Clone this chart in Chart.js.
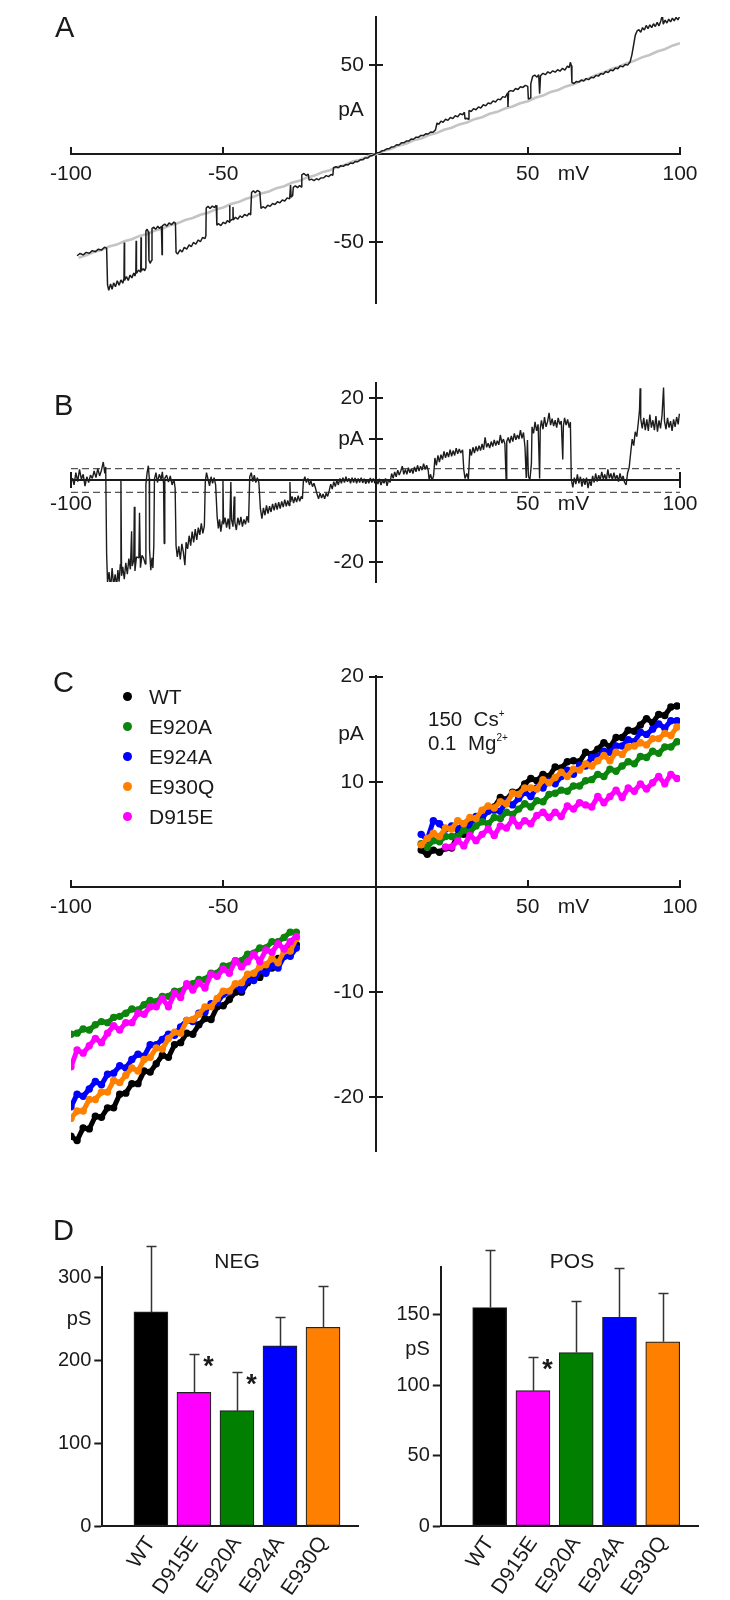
<!DOCTYPE html>
<html>
<head>
<meta charset="utf-8">
<script src="https://cdn.jsdelivr.net/npm/chart.js@4.4.1/dist/chart.umd.min.js"></script>
<style>
  body { margin: 0; background: #fff; font-family: "Liberation Sans", Arial, sans-serif; color: #1a1a1a; }
  #fig { position: relative; width: 730px; height: 1600px; overflow: hidden; }
  canvas { position: absolute; }
  .lbl { position: absolute; white-space: nowrap; }
  .panel { font-size: 29px; line-height: 29px; }
  .ion { font-size: 20.5px; line-height: 20px; }
  .ion sup { font-size: 10px; position: relative; top: -9px; vertical-align: baseline; }
  .title { font-size: 21px; line-height: 21px; transform: translateX(-50%); }
  .leg { position: absolute; font-size: 21px; line-height: 20px; white-space: nowrap; }
  .leg i { position: absolute; left: -26px; top: 5px; width: 9px; height: 9px; border-radius: 50%; }
</style>
</head>
<body>
<div id="fig">
  <canvas id="cA" width="730" height="330" style="left:0;top:0"></canvas>
  <canvas id="cB" width="730" height="280" style="left:0;top:330px"></canvas>
  <canvas id="cC" width="730" height="560" style="left:0;top:610px"></canvas>
  <canvas id="cD1" width="365" height="420" style="left:0;top:1180px"></canvas>
  <canvas id="cD2" width="365" height="420" style="left:365px;top:1180px"></canvas>

  <div class="lbl panel" style="left:55px;top:13px">A</div>
  <div class="lbl panel" style="left:54px;top:391px">B</div>
  <div class="lbl panel" style="left:53px;top:668px">C</div>
  <div class="lbl panel" style="left:53px;top:1216px">D</div>

  <div class="lbl ion" style="left:428px;top:709px">150&nbsp;&nbsp;Cs<sup>+</sup></div>
  <div class="lbl ion" style="left:428px;top:733px">0.1&nbsp;&nbsp;Mg<sup>2+</sup></div>

  <div class="lbl title" style="left:237px;top:1250px">NEG</div>
  <div class="lbl title" style="left:572px;top:1250px">POS</div>
  <div id="legendC"></div>
</div>

<script>
// ---------- A : courant unitaire (noir) et rampe moyenne (gris), [mV, pA]
const traceA = [
  [-98,-57.5],[-97,-56.2],[-96,-57],[-95,-55.6],[-94,-56.1],[-93,-54.6],[-92,-55.2],[-91,-53.8],[-90,-54.3],[-89,-52.7],[-88.3,-53.2],
  [-88,-74],[-87.6,-77],[-87,-73.5],[-86.5,-76.5],[-86,-72.8],[-85.4,-75],[-84.8,-71.6],[-84.2,-74.2],[-83.6,-71.2],[-83,-73],[-82.6,-70.5],[-82.5,-50],[-82.4,-71.5],[-81.8,-69.2],[-81.2,-71.5],[-80.6,-68.4],[-80,-70],[-79.4,-67.2],[-79,-69],[-78.7,-66.5],[-78.6,-49],[-78.5,-67.5],[-77.8,-65.6],[-77.1,-66.8],[-77,-47],[-76.9,-66],[-76.3,-64.8],[-75.8,-66],[-75.5,-64.5],
  [-75.4,-43.5],[-75,-42.5],[-74.6,-44],[-74.4,-60],[-74,-61.8],[-73.6,-60.2],[-73.4,-42],[-72.8,-41.4],[-72.2,-42.6],[-71.5,-40.8],[-71,-42],[-70.3,-41],[-70.1,-57],[-70,-40.6],[-69.2,-39.6],[-68.5,-40.8],[-67.8,-38.9],[-67,-40],[-66.2,-38.4],[-65.7,-39.2],
  [-65.5,-55.5],[-65,-56.6],[-64.2,-54.2],[-63.5,-55.4],[-62.8,-52.8],[-62,-53.8],[-61.2,-51.4],[-60.5,-52.4],[-59.8,-50],[-59,-51],[-58.2,-48.6],[-57.5,-49.6],[-56.8,-47.2],[-56,-47.8],[-55.7,-46.2],
  [-55.6,-30.5],[-55,-29.6],[-54.3,-30.8],[-53.6,-29.4],[-52.9,-30.2],[-52.3,-29],
  [-52.1,-40.2],[-51.5,-39.4],[-50.8,-40.5],[-50,-38.6],[-49.3,-39.4],[-48.6,-37.6],[-48,-38.6],[-47.9,-29],[-47.8,-38],[-47.1,-37],[-46.8,-30],[-46.7,-37.3],[-46,-35.8],[-45.2,-36.8],[-44.5,-35],[-43.8,-35.9],[-43,-34.2],[-42.2,-35],[-41.5,-33.5],[-41,-34.4],
  [-40.7,-21.8],[-40.1,-20.8],[-39.5,-21.9],[-38.8,-20.6],[-38,-21.4],
  [-37.6,-30.8],[-37,-29.8],[-36.2,-30.6],[-35.4,-29],[-34.6,-29.6],[-33.8,-28],[-33,-28.6],[-32.2,-27],[-31.4,-27.6],[-30.6,-26],[-29.8,-26.6],[-29,-24.8],[-28.2,-25.4],[-27.9,-17.5],[-27.7,-24.4],[-27.2,-23.4],
  [-27,-18.8],[-26.3,-18],[-25.6,-19],[-24.9,-17.8],[-24.4,-18.6],
  [-24.2,-11.8],[-23.5,-11],[-22.8,-12.2],[-22.1,-11.4],
  [-21.8,-14.8],[-21,-14.2],[-20.2,-15],[-19.4,-14],[-18.6,-14.6],[-18,-13.6],[-17,-13.4],[-16.2,-12.2],[-15.4,-12.8],[-14.6,-11.6],[-14,-12],
  [-13.8,-7.8],[-13,-7.2],[-12.2,-7.8],[-11.4,-6.6],[-10.6,-7],[-9.8,-6],[-9,-6.2],[-8.2,-5.1],[-7.4,-5.4],[-6.6,-4.2],[-5.8,-4.4],[-5,-3.3],[-4.2,-3.3],[-3.4,-2.2],[-2.6,-2.3],[-1.8,-1.2],[-1,-0.9],[-0.3,-0.2],
  [0.5,0.7],[1.3,0.8],[2.1,1.8],[2.9,2],[3.7,2.9],[4.5,3],[5.3,4],[6.1,4.1],[6.9,5.2],[7.7,5.1],[8.5,6.3],[9.3,6.3],[10.1,7.3],[10.9,7.3],[11.7,8.4],[12.5,8.3],[13.3,9.5],[14.1,9.4],[14.9,10.5],[15.7,10.4],[16.5,11.4],[17.3,11.3],[18.1,12.4],[18.9,12.3],[19.7,13.6],
  [20.2,17.5],[20.8,16.8],[21.5,18.6],[22.2,17.9],[23,19.6],[23.8,19],[24.6,20.6],[25.4,20],[26.2,21.6],[27,21],[27.8,22.8],[28.6,22.2],[29.2,23.6],
  [29.4,19.8],[30,20.2],[30.5,19.6],
  [30.7,24.6],[31.4,24],[32.2,25.6],[33,25],[33.8,26.6],[34.6,26],[35.4,27.8],[36.2,27.2],[37,28.8],[37.8,28.4],[38.6,30],[39.4,29.4],[40.2,31],[41,30.6],[41.8,32.4],[42.6,32],[43.4,34.5],[43.5,26.6],[43.7,35.2],[44.4,35.8],[45.2,35.4],[46,37],[46.8,36.4],[47.6,38],[48.4,37.6],[49.2,38.8],[50,38.2],[50.2,31],[50.8,31.6],[51,39.6],[51.6,43.8],[52.3,44.6],[53,43.4],[53.6,44.8],[53.9,34],[54.2,44.2],[55,45.6],[55.8,44.8],[56.6,46.4],[57.4,45.6],[58.2,47],[59,46.2],[59.8,47.6],[60.6,46.8],[61.4,48.4],[62.2,47.4],[63,49.6],[63.6,48.8],[64,51.8],[64.3,50],
  [64.5,40.4],[65.2,39.8],[66,41],[66.8,40.6],[67.6,41.8],[68.4,41.2],[69.2,42.6],[70,42],[70.8,43.4],[71.6,43],[72.4,44.4],[73.2,44],[74,45.4],[74.8,45],[75.6,46.6],[76.4,46],[77.2,47.4],[78,47],[78.8,48.6],[79.6,48.2],[80.4,49.8],[81.2,49.2],[82,50.6],[82.8,50.2],[83.6,52],
  [84.2,56],[84.8,62],[85.3,67],[85.9,69.5],[86.5,70.2],[87.1,68.8],[87.7,71.4],[88.3,70],[88.9,72.6],[89.5,70.8],[90.1,73],[90.7,71.4],[91.3,73.6],[91.9,72],[92.5,74.4],[93.1,72.4],[93.7,75.2],[94.2,78.5],[94.5,73.4],[95.1,75.6],[95.7,74],[96.3,76.2],[96.9,74.6],[97.5,76.8],[98.1,75.2],[98.7,77.2],[99.3,75.8],[99.8,77.4]
];
const meanA = [
  [-97.5,-58.6],[-95,-57.2],[-92.5,-55.4],[-90,-54.3],[-87.5,-52.3],[-85,-51.2],[-82.5,-49.3],[-80,-48.2],[-77.5,-46.3],[-75,-45.2],[-72.5,-43.3],[-70,-42.2],[-67.5,-40.3],[-65,-39.2],[-62.5,-37.3],[-60,-36.2],[-57.5,-34.3],[-55,-33.2],[-52.5,-31.3],[-50,-30.2],
  [-47.5,-28.3],[-45,-27.2],[-42.5,-25.3],[-40,-24.2],[-37.5,-22.3],[-35,-21.2],[-32.5,-19.3],[-30,-18.2],[-27.5,-16.3],[-25,-15.2],[-22.5,-13.3],[-20,-12.2],[-17.5,-10.3],[-15,-9.2],[-12.5,-7.3],[-10,-6.2],[-7.5,-4.3],[-5,-3.2],[-2.5,-1.3],[0,-0.2],
  [2.5,1.7],[5,2.8],[7.5,4.7],[10,5.8],[12.5,7.7],[15,8.8],[17.5,10.7],[20,11.8],[22.5,13.7],[25,14.8],[27.5,16.7],[30,17.8],[32.5,19.7],[35,20.8],[37.5,22.7],[40,23.8],[42.5,25.7],[45,26.8],[47.5,28.7],[50,29.8],
  [52.5,31.8],[55,33.0],[57.5,35.0],[60,36.2],[62.5,38.2],[65,39.4],[67.5,41.4],[70,42.7],[72.5,44.7],[75,46.0],[77.5,48.0],[80,49.3],[82.5,51.3],[85,52.6],[87.5,54.6],[90,55.9],[92.5,57.9],[95,59.2],[97.5,61.2],[100,62.6]
];

// ---------- B : courant soustrait, [mV, pA]
const traceB = [
  [-99.5,0.5],[-99,-1.2],[-98.4,1.8],[-97.8,-0.4],[-97.2,2.6],[-96.6,0.2],[-96,1.4],[-95.4,-1.5],[-94.8,0.8],[-94.2,-0.6],[-93.6,1.2],[-93,0.4],[-92.4,2.2],[-91.8,0.6],[-91.2,2.8],[-90.6,1.0],[-90,2.4],[-89.4,4.4],[-88.9,1.6],[-88.6,3.2],
  [-88.3,-18],[-88,-25],[-87.5,-22.5],[-87,-26.6],[-86.5,-21.5],[-86,-25.8],[-85.5,-23],[-85,-26],[-84.6,-22],[-84.2,-24.8],[-83.8,-20.6],[-83.6,0],[-83.4,-23.4],[-83,-21.2],[-82.5,-24.2],[-82,-20.2],[-81.5,-23],[-81,-19.2],[-80.5,-21.8],[-80.1,-12.5],[-79.9,-21],[-79.4,-19.6],[-79.2,-6.5],[-79,-22.2],[-78.5,-18.8],[-77.7,-19],[-77.5,-8],[-77.2,-21.4],[-76.7,-18.4],[-76.2,-19],[-75.6,-20.5],
  [-75.4,-1],[-75,1.8],[-74.6,3.5],[-74.3,0.5],[-74.2,-17],[-73.8,-22],[-73.4,-19],[-73.1,-21.5],[-72.8,-16],[-72.6,0.2],[-72.1,1.8],[-71.6,-0.6],[-71,1.4],[-70.4,0.2],[-70,2],[-69.6,-0.8],[-69.4,-15.5],[-69.2,0.4],[-68.6,1.2],[-68,-0.5],[-67.4,1],[-66.8,-1.2],[-66.2,0.2],[-65.8,-2],
  [-65.5,-16],[-65.1,-18.8],[-64.6,-16.2],[-64.1,-19.4],[-63.6,-15.6],[-63.1,-17.6],[-62.6,-20.8],[-62.2,-15.2],[-61.7,-16.8],[-61.2,-13.6],[-60.7,-16],[-60.2,-12.6],[-59.7,-15.2],[-59.2,-12],[-58.7,-14.6],[-58.2,-11.6],[-57.7,-13.4],[-57.2,-10.6],[-56.7,-13],[-56.2,-11.2],
  [-55.9,-0.5],[-55.5,1.8],[-55,0.2],[-54.5,-1.4],[-54,0.8],[-53.5,-0.8],[-53,0.6],[-52.5,-1.2],
  [-52,-9],[-51.6,-11.8],[-51.2,-9.6],[-50.8,-12.6],[-50.3,-10],[-50.1,0],[-49.9,-10.8],[-49.4,-9.2],[-48.9,-11.6],[-48.4,-9.4],[-47.9,-12],[-47.5,-0.5],[-47.3,-9.6],[-46.8,-11.4],[-46.4,-4],[-46.2,-10.2],[-45.7,-12.2],[-45.2,-9.2],[-44.7,-11],[-44.2,-9],[-43.7,-11.4],[-43.2,-9.6],[-42.7,-10.8],[-42.2,-8.8],[-41.7,-10.4],
  [-41.3,0.8],[-40.8,1.8],[-40.3,-0.4],[-39.8,1.2],[-39.3,-0.6],[-38.8,0.6],[-38.3,-0.6],
  [-37.8,-7],[-37.3,-9.4],[-36.8,-6.8],[-36.3,-8.6],[-35.8,-6.2],[-35.3,-8.2],[-34.8,-6.4],[-34.3,-7.8],[-33.8,-5.8],[-33.3,-7.4],[-32.8,-5.6],[-32.3,-7.2],[-31.8,-5.4],[-31.3,-7],[-30.8,-5.2],[-30.3,-6.6],[-29.8,-4.8],[-29.3,-6.4],[-28.8,-5],[-28.4,-6.2],
  [-28.1,-0.5],[-27.9,-5.4],[-27.4,-4],[-26.9,-5.6],[-26.4,-4.2],[-25.9,-5.4],[-25.4,-3.8],[-24.9,-5.2],[-24.4,-4],[-24,-4.6],
  [-23.7,-0.4],[-23.2,0.8],[-22.7,-0.6],[-22.2,0.4],[-21.7,-1.2],[-21.2,-0.2],[-20.7,-1.6],[-20.2,-0.8],[-19.7,-2],
  [-19.2,-3.4],[-18.7,-4.6],[-18.2,-3.2],[-17.7,-4.4],[-17.2,-3.4],[-16.7,-4.6],[-16.2,-3.2],[-15.7,-4],[-15.2,-2.6],
  [-14.7,-1],[-14.2,-2.2],[-13.7,-0.4],[-13.2,-1.6],[-12.7,0],[-12.2,-1.2],[-11.7,0.4],[-11.2,-0.8],[-10.7,0.6],[-10.2,-0.6],[-9.7,0.8],[-9.2,-0.4],[-8.7,0.4],[-8.2,-0.8],[-7.7,0.6],[-7.2,-0.6],[-6.7,0.5],[-6.2,-0.8],[-5.7,0.4],[-5.2,-0.6],[-4.7,0.6],[-4.2,-0.7],[-3.7,0.3],[-3.2,-0.9],[-2.7,0.2],[-2.2,-0.8],[-1.7,0.5],[-1.2,-0.6],[-0.7,0.4],[-0.2,-0.8],
  [0.3,0.2],[0.8,-1],[1.3,0.3],[1.8,-1.2],[2.3,0],[2.8,-0.8],[3.3,0.4],[3.8,-1.4],[4.3,0.2],[4.8,-0.6],
  [5.3,1.6],[5.8,0.4],[6.3,2],[6.8,0.8],[7.3,2.4],[7.8,1.2],[8.3,2.2],[8.8,3.4],[9.3,1.4],[9.8,2.6],[10.3,1.4],[10.8,3],[11.3,1.8],[11.8,2.8],[12.3,1.6],[12.8,3.2],[13.3,2],[13.8,3.6],[14.3,2.2],[14.8,3.4],[15.3,2.4],[15.8,4],[16.3,2.6],[16.8,3.6],[17.3,2.4],
  [17.6,0.2],[18.1,1.4],[18.6,-0.2],[19.1,1.2],
  [19.5,5.4],[20,3.6],[20.5,6],[21,4.4],[21.5,6.2],[22,5],[22.5,7],[23,5.4],[23.5,6.8],[24,5.6],[24.5,7.4],[25,5.8],[25.5,7.2],[26,6],[26.5,7.8],[27,6.4],[27.5,7.6],[28,6.6],[28.6,7.4],
  [29,2.5],[29.4,0.4],[30,1.6],[30.5,0.2],
  [31,7.6],[31.5,6],[32,8],[32.5,6.6],[33,8.2],[33.5,7],[34,8.4],[34.5,7.2],[35,8.8],[35.5,7.4],[36,10.4],[36.5,8],[37,9],[37.5,7.8],[38,9.4],[38.5,8.2],[39,9.8],[39.5,8.4],[40,9.6],[40.5,8.6],[41,11],[41.5,9],[42,10],[42.5,8.8],[42.9,0],[43.1,9.4],[43.6,10.4],[44.1,9],[44.6,10.8],[45.1,9.4],[45.6,11.4],[46.1,9.8],[46.6,11],[47.1,10],[47.6,12.2],[48.1,10.2],[48.6,11.6],[49.1,8],[49.5,0.5],[49.9,9.8],
  [50.2,1],[50.7,0],[51.2,4],[51.4,13],[51.9,11.4],[52.4,14.2],[52.9,12],[53.4,13.6],[53.9,0.4],[54.1,12.6],[54.5,14.6],[55,12.4],[55.5,15.4],[56,13],[56.5,14.2],[57,16.4],[57.5,13.4],[58,15],[58.5,13.2],[59,14.6],[59.5,12.8],[60,15.2],[60.5,13.6],[61,14.4],[61.5,5],[61.7,13.2],[62.1,15.2],[62.6,13.4],[63.1,14.8],[63.6,12.8],[64,14.2],
  [64.3,0.2],[64.8,-1.8],[65.3,0.6],[65.8,-1],[66.3,1.4],[66.8,-0.8],[67.3,0.8],[67.8,-1.6],[68.3,0.4],[68.8,-1.2],[69.3,0.6],[69.8,-2],[70.3,0],[70.8,-1.4],[71.3,1],[71.8,-0.6],[72.3,1.6],[72.8,-0.4],[73.3,1.2],[73.8,0],[74.3,2],[74.8,0.2],[75.3,1.4],[75.8,-0.2],[76.3,2.6],[76.8,0.4],[77.3,1.6],[77.8,0],[78.3,1.8],[78.8,0.2],[79.3,1.2],[79.8,-0.4],[80.3,1.6],[80.8,0],[81.3,1],[81.8,-0.6],[82.3,-1.2],
  [82.8,1.8],[83.3,3],[83.8,6.6],[84.3,10],[84.8,8.4],[85.3,11.8],[85.8,10.6],[86.3,14],[86.7,17],[86.9,22.4],[87.1,15],[87.6,12.6],[88.1,15.2],[88.6,12.2],[89.1,14.8],[89.6,12],[90.1,16],[90.6,12.8],[91.1,14.6],[91.6,12.2],[92.1,15.6],[92.6,11.8],[93.1,14.6],[93.6,12.6],[94.1,15.8],[94.6,22.6],[94.9,14.4],[95.4,12.4],[95.9,15.2],[96.4,12.8],[96.9,14.4],[97.4,12],[97.9,14.8],[98.4,13],[98.9,15.4],[99.4,13.6],[99.8,16.2]
];
const levelsB = [2.8, -3.0];   // seuils en pointillés (pA)

// ---------- C : relations I-V des mutants
const vNeg = [-100,-98,-96,-94,-92,-90,-88,-86,-84,-82,-80,-78,-76,-74,-72,-70,-68,-66,-64,-62,-60,-58,-56,-54,-52,-50,-48,-46,-44,-42,-40,-38,-36,-34,-32,-30,-28,-26];
const vPos = [15,17,19,21,23,25,27,29,31,33,35,37,39,41,43,45,47,49,51,53,55,57,59,61,63,65,67,69,71,73,75,77,79,81,83,85,87,89,91,93,95,97,99];

const wtNeg   = [-23.7,-24.1,-22.9,-23.0,-21.8,-21.9,-21.0,-21.0,-19.7,-19.6,-18.7,-18.7,-17.5,-17.6,-16.8,-16.0,-16.2,-15.0,-14.8,-13.9,-14.0,-13.1,-12.5,-12.6,-11.4,-11.3,-10.7,-10.0,-10.0,-9.1,-8.5,-8.6,-7.8,-7.7,-6.8,-6.6,-5.8,-5.5];
const wtPos   = [3.5,3.1,3.5,3.3,3.7,3.7,4.9,5.0,5.9,6.6,6.5,7.4,7.6,8.5,8.3,9.0,9.0,9.8,10.3,10.1,10.7,10.5,11.4,11.3,11.9,12.0,11.9,12.8,12.6,13.1,13.7,13.3,14.2,14.2,14.9,14.8,15.4,16.0,15.6,16.4,16.3,17.1,17.2];
const e920aNeg = [-14.0,-13.9,-13.5,-13.6,-13.1,-12.8,-12.9,-12.4,-12.3,-12.0,-11.6,-11.7,-11.2,-10.8,-10.9,-10.4,-10.4,-9.9,-9.9,-9.4,-9.2,-8.8,-8.8,-8.2,-8.2,-7.5,-7.5,-7.0,-7.0,-6.4,-6.3,-5.8,-5.8,-5.2,-5.2,-4.8,-4.3,-4.3];
const e920aPos = [4.1,3.8,4.4,4.3,4.8,4.8,4.8,5.4,5.2,5.8,6.2,6.0,6.6,6.5,7.1,6.9,7.4,7.9,7.6,8.2,8.1,8.8,8.9,9.2,9.1,9.6,9.6,10.1,10.2,10.7,10.5,11.2,11.0,11.5,11.9,11.7,12.4,12.3,12.9,12.7,13.3,13.3,13.8];
const e924aNeg = [-20.9,-19.7,-19.9,-19.2,-18.5,-18.8,-17.8,-17.7,-17.0,-17.2,-16.4,-15.9,-16.1,-15.0,-15.0,-14.5,-14.0,-14.1,-13.3,-12.7,-12.8,-12.0,-11.9,-11.1,-11.0,-10.2,-10.0,-9.3,-9.8,-8.8,-8.9,-7.9,-8.2,-7.5,-7.7,-6.6,-6.6,-5.8];
const e924aPos = [5.0,4.5,6.3,6.0,5.5,5.8,5.5,6.0,5.7,6.7,6.6,7.2,7.3,7.2,8.1,7.8,8.4,9.0,8.6,9.4,9.4,10.1,9.8,10.5,11.1,10.7,11.6,11.5,12.3,12.4,12.9,12.8,13.4,13.4,14.0,13.8,14.7,14.5,15.0,15.5,15.1,15.8,15.8];
const e930qNeg = [-22.0,-21.3,-21.3,-20.2,-20.2,-19.5,-19.5,-18.4,-18.6,-17.9,-17.2,-17.5,-16.4,-16.2,-15.3,-15.4,-14.4,-13.8,-13.9,-12.7,-12.6,-12.1,-11.4,-11.4,-10.6,-9.9,-9.9,-9.2,-9.1,-8.3,-8.2,-7.6,-7.4,-6.8,-7.2,-6.1,-6.1,-4.9];
const e930qPos = [4.0,4.6,5.1,4.8,5.6,5.5,6.3,6.0,6.6,6.5,7.3,7.7,7.5,8.1,7.9,8.9,8.8,9.4,9.4,9.3,10.2,9.9,10.4,10.9,10.5,11.2,11.1,11.7,11.5,12.0,12.5,12.0,12.8,12.6,13.3,13.4,13.7,13.5,14.1,14.1,14.6,14.4,15.2];
const d915eNeg = [-17.1,-15.5,-15.8,-15.1,-14.4,-14.8,-13.9,-13.2,-13.6,-12.9,-12.9,-12.0,-12.1,-11.4,-11.4,-10.6,-11.4,-10.1,-10.5,-9.2,-9.8,-9.1,-9.6,-8.3,-8.5,-7.8,-8.2,-7.0,-7.6,-7.1,-6.4,-7.1,-6.0,-6.2,-5.4,-5.9,-5.2,-4.7];
const d915ePos = [null,null,null,null,3.8,3.8,4.4,3.9,4.9,4.4,5.0,5.5,4.9,5.8,5.6,6.4,5.8,6.3,6.0,6.8,7.1,6.6,7.1,6.7,7.7,7.4,8.0,7.8,7.6,8.6,8.0,8.6,9.2,8.5,9.4,9.1,9.8,9.3,9.9,10.5,9.8,10.7,10.3];

const namesC  = ['WT', 'E920A', 'E924A', 'E930Q', 'D915E'];
const colorsC = ['#000000', '#0b850b', '#0000ff', '#ff8000', '#ff00ff'];
const negC = [wtNeg, e920aNeg, e924aNeg, e930qNeg, d915eNeg];
const posC = [wtPos, e920aPos, e924aPos, e930qPos, d915ePos];
const stackC = [5, 3, 4, 2, 1];   // ordre de dessin (1 = dessus)

// ---------- D : conductances (pS), moyenne + erreur
const mutants   = ['WT', 'D915E', 'E920A', 'E924A', 'E930Q'];
const barColors = ['#000000', '#ff00ff', '#007f00', '#0000ff', '#ff8000'];
const negMean = [258, 161, 139, 217, 239.5];
const negErr  = [79, 46, 46, 34.5, 50];
const posMean = [155.3, 96.2, 123.3, 148.4, 130.9];
const posErr  = [41, 24.2, 36.3, 35.3, 34.6];
const negStars = [1, 2];
const posStars = [1];

// ---------- graduations
const ticksA_x = [-100, -50, 50, 65, 100];
const labelsA_x = ['-100', '-50', '50', 'mV', '100'];
const ticksA_y = [-50, 25, 50];
const labelsA_y = ['-50', 'pA', '50'];
const marksA_x = [-100, -50, 50, 100];
const marksA_y = [-50, 50];

const ticksB_x = [-100, 50, 65, 100];
const labelsB_x = ['-100', '50', 'mV', '100'];
const ticksB_y = [-20, 10, 20];
const labelsB_y = ['-20', 'pA', '20'];
const marksB_x = [-100, 100];
const marksB_y = [-20, -10, 10, 20];

const ticksC_x = [-100, -50, 50, 65, 100];
const labelsC_x = ['-100', '-50', '50', 'mV', '100'];
const ticksC_y = [-20, -10, 10, 14.5, 20];
const labelsC_y = ['-20', '-10', '10', 'pA', '20'];
const marksC_x = [-100, -50, 50, 100];
const marksC_y = [-20, -10, 10, 20];

const ticksNeg = [0, 100, 200, 248.5, 300];
const labelsNeg = ['0', '100', '200', 'pS', '300'];
const ticksPos = [0, 50, 100, 125.6, 150];
const labelsPos = ['0', '50', '100', 'pS', '150'];

const INK = '#1a1a1a';
Chart.defaults.font.family = '"Liberation Sans", Arial, sans-serif';
Chart.defaults.font.size = 21;
Chart.defaults.color = INK;

// petits traits de graduation, croisant ou non l'axe
const crossMarks = {
  id: 'crossMarks',
  afterDraw(chart, args, o) {
    const ctx = chart.ctx, x = chart.scales.x, y = chart.scales.y;
    const x0 = Math.round(x.getPixelForValue(0)), y0 = Math.round(y.getPixelForValue(0));
    ctx.save();
    ctx.strokeStyle = INK;
    ctx.lineWidth = 2;
    o.xv.forEach(v => {
      const px = Math.round(x.getPixelForValue(v));
      ctx.beginPath(); ctx.moveTo(px, y0 - o.up); ctx.lineTo(px, y0 + o.down); ctx.stroke();
    });
    o.yv.forEach(v => {
      const py = Math.round(y.getPixelForValue(v));
      ctx.beginPath(); ctx.moveTo(x0 - 7, py); ctx.lineTo(x0 + 7, py); ctx.stroke();
    });
    ctx.restore();
  }
};

function ivScales(xr, yr, xt, xl, yt, yl, xPad) {
  return {
    x: {
      type: 'linear', min: xr[0], max: xr[1], position: { y: 0 },
      grid: { drawOnChartArea: false, drawTicks: false },
      border: { display: true, color: INK, width: 2 },
      afterBuildTicks: s => { s.ticks = xt.map(v => ({ value: v })); },
      ticks: { autoSkip: false, maxRotation: 0, padding: xPad, callback: (v, i) => xl[i] }
    },
    y: {
      type: 'linear', min: yr[0], max: yr[1], position: { x: 0 },
      grid: { drawOnChartArea: false, drawTicks: false },
      border: { display: true, color: INK, width: 2 },
      afterBuildTicks: s => { s.ticks = yt.map(v => ({ value: v })); },
      ticks: { autoSkip: false, padding: 0, callback: (v, i) => yl[i] + '\u00a0\u00a0' }
    }
  };
}

const baseOpts = {
  responsive: false, animation: false, devicePixelRatio: 1,
  events: [],
  plugins: { legend: { display: false }, tooltip: { enabled: false } }
};

// ----- A
new Chart(document.getElementById('cA'), {
  type: 'line',
  data: { datasets: [
    { data: traceA, borderColor: '#1c1c1c', borderWidth: 1.5, pointRadius: 0, borderJoinStyle: 'bevel', order: 1 },
    { data: meanA, borderColor: '#c4c4c4', borderWidth: 2.6, pointRadius: 0, order: 2 }
  ] },
  options: Object.assign({}, baseOpts, {
    layout: { padding: { left: 71, right: 50, top: 17, bottom: 27 } },
    scales: ivScales([-100, 100], [-84.2, 77.4], ticksA_x, labelsA_x, ticksA_y, labelsA_y, 8),
    plugins: Object.assign({}, baseOpts.plugins, { crossMarks: { xv: marksA_x, yv: marksA_y, up: 7, down: 0 } })
  }),
  plugins: [crossMarks]
});

// ----- B
new Chart(document.getElementById('cB'), {
  type: 'line',
  data: { datasets: [
    { data: traceB, borderColor: '#1c1c1c', borderWidth: 1.4, pointRadius: 0, borderJoinStyle: 'bevel', order: 1 },
    { data: [[-100, levelsB[0]], [100, levelsB[0]]], borderColor: '#555', borderWidth: 1.2, borderDash: [7, 4], pointRadius: 0, order: 2 },
    { data: [[-100, levelsB[1]], [100, levelsB[1]]], borderColor: '#555', borderWidth: 1.2, borderDash: [7, 4], pointRadius: 0, order: 2 }
  ] },
  options: Object.assign({}, baseOpts, {
    layout: { padding: { left: 71, right: 50, top: 53, bottom: 28 } },
    scales: ivScales([-100, 100], [-24.9, 23.7], ticksB_x, labelsB_x, ticksB_y, labelsB_y, 12),
    plugins: Object.assign({}, baseOpts.plugins, { crossMarks: { xv: marksB_x, yv: marksB_y, up: 8, down: 8 } })
  }),
  plugins: [crossMarks]
});

// ----- C
const datasetsC = namesC.map((name, k) => ({
  label: name,
  data: vNeg.map((v, i) => ({ x: v, y: negC[k][i] }))
        .concat([{ x: 0, y: null }])
        .concat(vPos.map((v, i) => ({ x: v, y: posC[k][i] }))),
  borderColor: colorsC[k], backgroundColor: colorsC[k], pointBackgroundColor: colorsC[k],
  borderWidth: 5, pointRadius: 3.7, pointBorderWidth: 0, borderJoinStyle: 'round',
  spanGaps: false, order: stackC[k]
}));
new Chart(document.getElementById('cC'), {
  type: 'line',
  data: { datasets: datasetsC },
  options: Object.assign({}, baseOpts, {
    layout: { padding: { left: 71, right: 50, top: 66, bottom: 19 } },
    scales: ivScales([-100, 100], [-25.1, 20.05], ticksC_x, labelsC_x, ticksC_y, labelsC_y, 8),
    plugins: Object.assign({}, baseOpts.plugins, { crossMarks: { xv: marksC_x, yv: marksC_y, up: 7, down: 0 } })
  }),
  plugins: [crossMarks]
});

// légende C (HTML)
const legendC = document.getElementById('legendC');
namesC.forEach((name, k) => {
  const d = document.createElement('div');
  d.className = 'leg';
  d.style.left = '149px';
  d.style.top = (687 + k * 30) + 'px';
  d.innerHTML = '<i style="background:' + colorsC[k] + '"></i>' + name;
  legendC.appendChild(d);
});

// ----- D : barres d'erreur + astérisques
const errorBars = {
  id: 'errorBars',
  afterDatasetsDraw(chart, args, o) {
    const ctx = chart.ctx, x = chart.scales.x, y = chart.scales.y;
    ctx.save();
    ctx.strokeStyle = '#333';
    ctx.lineWidth = 1.5;
    ctx.fillStyle = INK;
    ctx.font = 'bold 27px "Liberation Sans", Arial, sans-serif';
    ctx.textAlign = 'center';
    ctx.textBaseline = 'alphabetic';
    o.mean.forEach((m, i) => {
      const px = Math.round(x.getPixelForValue(i)) + 0.5;
      const top = Math.round(y.getPixelForValue(m + o.err[i])) + 0.5;
      const base = y.getPixelForValue(m);
      ctx.beginPath();
      ctx.moveTo(px, base); ctx.lineTo(px, top);
      ctx.moveTo(px - 5, top); ctx.lineTo(px + 5, top);
      ctx.stroke();
      if (o.stars.indexOf(i) >= 0) ctx.fillText('*', px + 14, top + 20);
    });
    ctx.restore();
  }
};

function barChart(id, mean, err, stars, yMax, yt, yl, axisW, padRight) {
  return new Chart(document.getElementById(id), {
    type: 'bar',
    data: { datasets: [{
      data: mean.map((m, i) => ({ x: i, y: m })),
      backgroundColor: barColors, borderColor: '#222', borderWidth: 1.2,
      barThickness: 34, borderSkipped: false
    }] },
    options: Object.assign({}, baseOpts, {
      layout: { padding: { left: 0, right: padRight, top: 86.7, bottom: 0 } },
      scales: {
        x: {
          type: 'linear', position: 'bottom', min: -1.13, max: 4.82, offset: false,
          grid: { display: false, drawTicks: false },
          border: { display: true, color: INK, width: 2 },
          afterBuildTicks: s => { s.ticks = mutants.map((m, i) => ({ value: i })); },
          afterFit: s => { s.height = 74; },
          ticks: { autoSkip: false, minRotation: 56, maxRotation: 56, padding: 6, font: { size: 21 },
                   callback: (v, i) => mutants[i] }
        },
        y: {
          type: 'linear', position: 'left', min: 0, max: yMax,
          grid: { drawOnChartArea: false, drawTicks: true, tickLength: 8, tickWidth: 2,
                  tickColor: c => (c.tick && yl[yt.indexOf(c.tick.value)] === 'pS') ? 'rgba(0,0,0,0)' : INK },
          border: { display: true, color: INK, width: 2 },
          afterBuildTicks: s => { s.ticks = yt.map(v => ({ value: v })); },
          afterFit: s => { s.width = axisW; },
          ticks: { autoSkip: false, padding: 3, font: { size: 20 }, callback: (v, i) => yl[i] }
        }
      },
      plugins: Object.assign({}, baseOpts.plugins, { errorBars: { mean: mean, err: err, stars: stars } })
    }),
    plugins: [errorBars]
  });
}
barChart('cD1', negMean, negErr, negStars, 312.5, ticksNeg, labelsNeg, 102.3, 6.7);
barChart('cD2', posMean, posErr, posStars, 184.3, ticksPos, labelsPos, 75.8, 31.8);
</script>
</body>
</html>
